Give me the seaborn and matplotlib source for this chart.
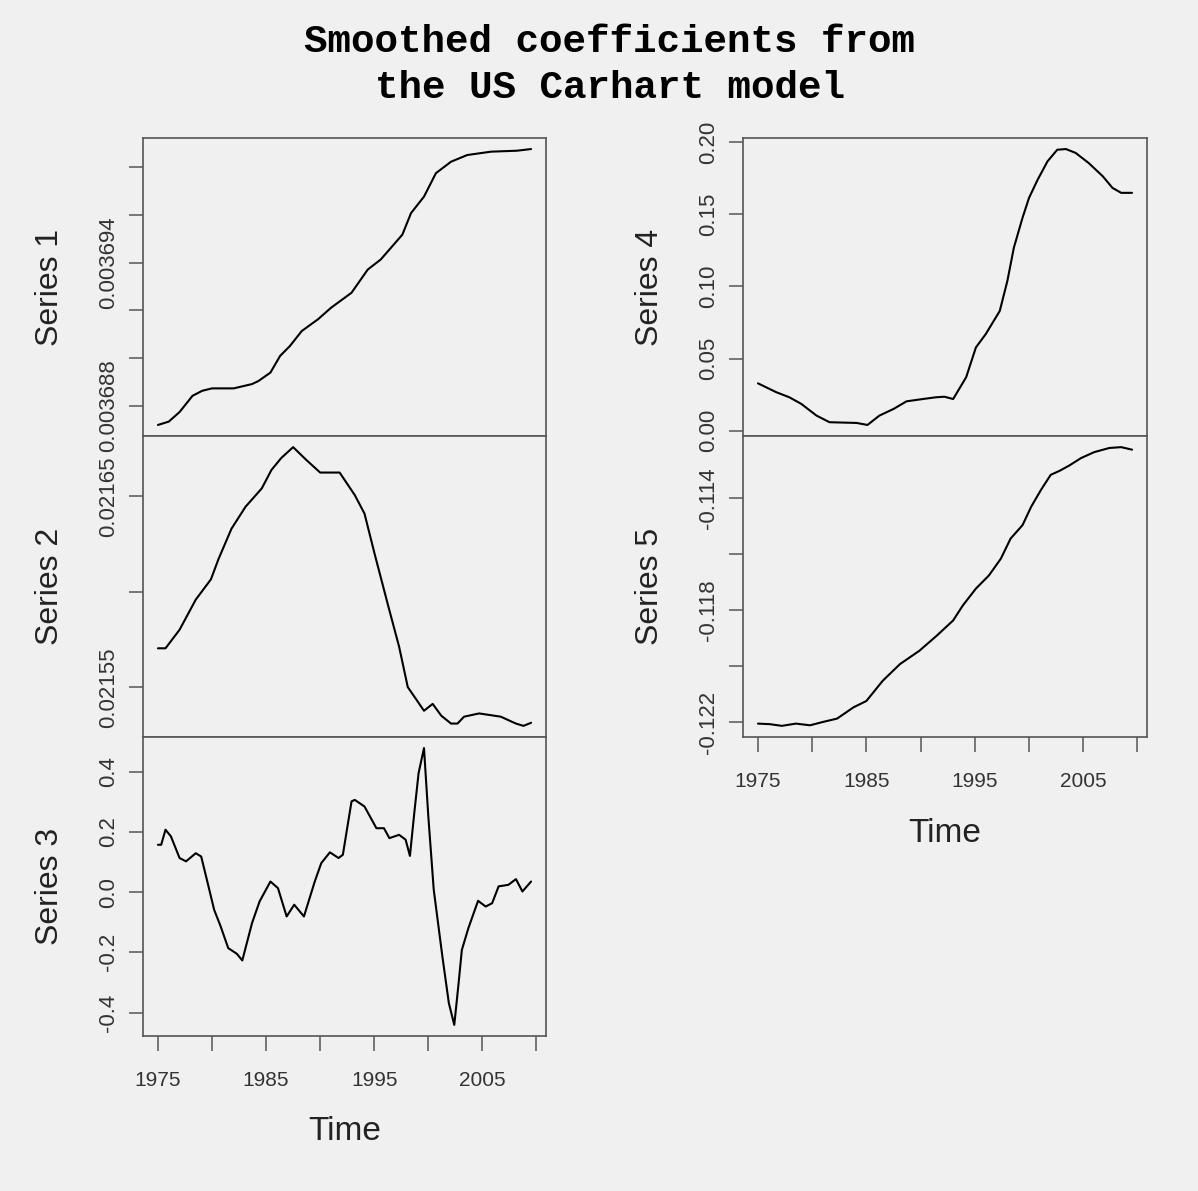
import matplotlib
matplotlib.use("Agg")
import matplotlib.pyplot as plt
import numpy as np
import pandas as pd
import seaborn as sns

# ---------------- data ----------------
t1 = [1975.0, 1976.0, 1977.0, 1978.2, 1979.1, 1980.0, 1982.0, 1983.7, 1984.3, 1985.4,
      1986.3, 1987.2, 1988.3, 1989.8, 1991.0, 1992.9, 1994.4, 1995.6, 1997.6, 1998.4,
      1999.6, 2000.7, 2002.1, 2003.6, 2005.8, 2008.2, 2009.5]
s1 = [0.00368721, 0.00368735, 0.00368775, 0.00368843, 0.00368864, 0.00368874, 0.00368874,
      0.00368892, 0.00368905, 0.00368940, 0.00369010, 0.00369051, 0.00369114, 0.00369163,
      0.00369211, 0.00369274, 0.00369371, 0.00369413, 0.00369517, 0.00369607, 0.00369676,
      0.00369774, 0.00369822, 0.00369850, 0.00369864, 0.00369868, 0.00369875]

t2 = [1975.0, 1975.7, 1977.0, 1978.5, 1979.9, 1980.6, 1981.8, 1983.1, 1984.6, 1985.5,
      1986.4, 1987.5, 1988.7, 1990.0, 1991.8, 1993.2, 1994.1, 1995.0, 1996.3, 1997.3,
      1998.1, 1999.6, 2000.4, 2001.2, 2002.1, 2002.7, 2003.3, 2004.7, 2006.7, 2008.1,
      2008.8, 2009.5]
s2 = [0.0215705, 0.0215705, 0.0215802, 0.0215960, 0.0216066, 0.0216172, 0.0216331,
      0.0216446, 0.0216542, 0.0216639, 0.0216701, 0.0216758, 0.0216692, 0.0216625,
      0.0216625, 0.0216507, 0.0216410, 0.0216207, 0.0215925, 0.0215713, 0.0215502,
      0.0215378, 0.0215414, 0.0215352, 0.0215311, 0.0215311, 0.0215347, 0.0215364,
      0.0215347, 0.0215311, 0.0215299, 0.0215315]

t3 = [1975.0, 1975.3, 1975.7, 1976.2, 1977.0, 1977.6, 1978.5, 1979.0, 1979.6, 1980.2,
      1980.8, 1981.5, 1982.3, 1982.8, 1983.7, 1984.4, 1985.4, 1986.1, 1986.9, 1987.6,
      1988.5, 1989.5, 1990.1, 1990.9, 1991.7, 1992.1, 1992.9, 1993.2, 1994.1, 1995.2,
      1995.9, 1996.4, 1997.3, 1997.9, 1998.3, 1998.7, 1999.1, 1999.6, 2000.0, 2000.5,
      2001.3, 2001.9, 2002.4, 2002.8, 2003.1, 2003.7, 2004.6, 2005.3, 2005.9, 2006.5,
      2007.4, 2008.1, 2008.7, 2009.5]
s3 = [0.157, 0.157, 0.207, 0.185, 0.113, 0.102, 0.129, 0.118, 0.030, -0.059,
      -0.114, -0.186, -0.205, -0.227, -0.103, -0.031, 0.035, 0.013, -0.081, -0.042,
      -0.081, 0.035, 0.096, 0.132, 0.113, 0.124, 0.301, 0.306, 0.284, 0.212,
      0.212, 0.179, 0.190, 0.174, 0.120, 0.262, 0.395, 0.478, 0.251, 0.008,
      -0.214, -0.369, -0.441, -0.302, -0.192, -0.120, -0.029, -0.048, -0.037, 0.019,
      0.024, 0.043, 0.002, 0.035]

t4 = [1975.0, 1976.7, 1977.9, 1979.0, 1980.4, 1981.6, 1984.1, 1985.1, 1986.2, 1987.5,
      1988.7, 1990.2, 1991.4, 1992.2, 1993.0, 1994.2, 1995.1, 1996.0, 1997.3, 1998.0,
      1998.6, 1999.4, 2000.0, 2000.8, 2001.7, 2002.6, 2003.4, 2004.3, 2005.5, 2006.8,
      2007.7, 2008.5, 2009.5]
s4 = [0.0328, 0.0266, 0.0231, 0.0185, 0.0104, 0.0058, 0.0053, 0.0039, 0.0104, 0.0150,
      0.0203, 0.0219, 0.0231, 0.0235, 0.0219, 0.0370, 0.0577, 0.0669, 0.0830, 0.1038,
      0.1269, 0.1477, 0.1615, 0.1742, 0.1868, 0.1949, 0.1954, 0.1927, 0.1857, 0.1765,
      0.1684, 0.1650, 0.1650]

t5 = [1975.0, 1976.1, 1977.2, 1978.5, 1979.8, 1981.0, 1982.3, 1983.8, 1985.0, 1986.5,
      1988.1, 1989.9, 1991.5, 1993.0, 1993.9, 1995.1, 1996.3, 1997.4, 1998.3, 1999.4,
      2000.2, 2001.1, 2002.0, 2002.8, 2003.7, 2004.8, 2006.0, 2007.4, 2008.5, 2009.5]
s5 = [-0.12206, -0.12208, -0.12214, -0.12206, -0.12212, -0.12200, -0.12188, -0.12148,
      -0.12125, -0.12053, -0.11993, -0.11945, -0.11891, -0.11837, -0.11783, -0.11723,
      -0.11676, -0.11616, -0.11544, -0.11496, -0.11430, -0.11370, -0.11316, -0.11302,
      -0.11283, -0.11256, -0.11235, -0.11220, -0.11217, -0.11226]

series_names = ["Series 1", "Series 2", "Series 3", "Series 4", "Series 5"]

x_ticks = [1975, 1980, 1985, 1990, 1995, 2000, 2005, 2010]
x_tick_labels = ["1975", "", "1985", "", "1995", "", "2005", ""]

yt1 = [0.003688, 0.003690, 0.003692, 0.003694, 0.003696, 0.003698]
yl1 = ["0.003688", "", "", "0.003694", "", ""]
yt2 = [0.02155, 0.02160, 0.02165]
yl2 = ["0.02155", "", "0.02165"]
yt3 = [-0.4, -0.2, 0.0, 0.2, 0.4]
yl3 = ["-0.4", "-0.2", "0.0", "0.2", "0.4"]
yt4 = [0.00, 0.05, 0.10, 0.15, 0.20]
yl4 = ["0.00", "0.05", "0.10", "0.15", "0.20"]
yt5 = [-0.122, -0.120, -0.118, -0.116, -0.114]
yl5 = ["-0.122", "", "-0.118", "", "-0.114"]

title_lines = ["Smoothed coefficients from", "the US Carhart model"]

# ---------------- style ----------------
BG = "#f0f0f0"
FRAME = "#555555"
sns.set_theme(style="white", rc={
    "figure.facecolor": BG, "axes.facecolor": BG, "savefig.facecolor": BG,
    "axes.edgecolor": FRAME, "axes.linewidth": 1.2,
})
plt.rcParams["font.family"] = ["Liberation Sans", "DejaVu Sans"]

W, H = 1198, 1191
fig = plt.figure(figsize=(W / 100, H / 100), dpi=100)


def rect(x0, top, x1, bottom):
    return [x0 / W, 1 - bottom / H, (x1 - x0) / W, (bottom - top) / H]


panels = [
    (rect(143, 138, 546, 436), t1, s1, yt1, yl1, False),
    (rect(143, 436, 546, 737), t2, s2, yt2, yl2, False),
    (rect(143, 737, 546, 1036), t3, s3, yt3, yl3, True),
    (rect(743, 138, 1147, 436), t4, s4, yt4, yl4, False),
    (rect(743, 436, 1147, 737), t5, s5, yt5, yl5, True),
]

tmin = min(t1 + t2 + t3 + t4 + t5)
tmax = max(t1 + t2 + t3 + t4 + t5)
xpad = 0.04 * (tmax - tmin)

for i, (r, t, s, yt, yl, bottom) in enumerate(panels):
    ax = fig.add_axes(r)
    df = pd.DataFrame({"Time": t, "value": s})
    sns.lineplot(data=df, x="Time", y="value", ax=ax, color="black",
                 linewidth=1.5, estimator=None, sort=False)
    ax.set_xlim(tmin - xpad, tmax + xpad)
    lo, hi = min(s), max(s)
    ypad = 0.04 * (hi - lo)
    ax.set_ylim(lo - ypad, hi + ypad)

    for sp in ax.spines.values():
        sp.set_visible(True)
        sp.set_color(FRAME)
        sp.set_linewidth(1.2)

    ax.set_yticks(yt)
    ax.set_yticklabels(yl)
    ax.tick_params(axis="y", left=True, direction="out", length=10, width=1.1,
                   color=FRAME, labelsize=16, labelcolor="#333333", pad=7,
                   labelrotation=90)
    for lab in ax.get_yticklabels():
        lab.set_va("center")

    ax.set_xticks(x_ticks)
    if bottom:
        ax.set_xticklabels(x_tick_labels)
        ax.tick_params(axis="x", bottom=True, direction="out", length=11,
                       width=1.1, color=FRAME, labelsize=15,
                       labelcolor="#333333", pad=14)
        ax.set_xlabel("Time", fontsize=24, color="#222222", va="center")
        pix_h = r[3] * H
        ax.xaxis.set_label_coords(0.5, -96 / pix_h)
    else:
        ax.tick_params(axis="x", bottom=False, labelbottom=False)
        ax.set_xlabel("")

    ax.set_ylabel(series_names[i], fontsize=23, color="#222222", va="center")
    ax.yaxis.set_label_coords(-93 / (r[2] * W), 0.5)

fig.text(610 / W, 1 - 42 / H, title_lines[0], ha="center", va="center",
         family=["Liberation Mono", "DejaVu Sans Mono"], weight="bold",
         size=28.3, color="black")
fig.text(610 / W, 1 - 88 / H, title_lines[1], ha="center", va="center",
         family=["Liberation Mono", "DejaVu Sans Mono"], weight="bold",
         size=28.3, color="black")

fig.savefig("out.png", dpi=100, facecolor=BG)
